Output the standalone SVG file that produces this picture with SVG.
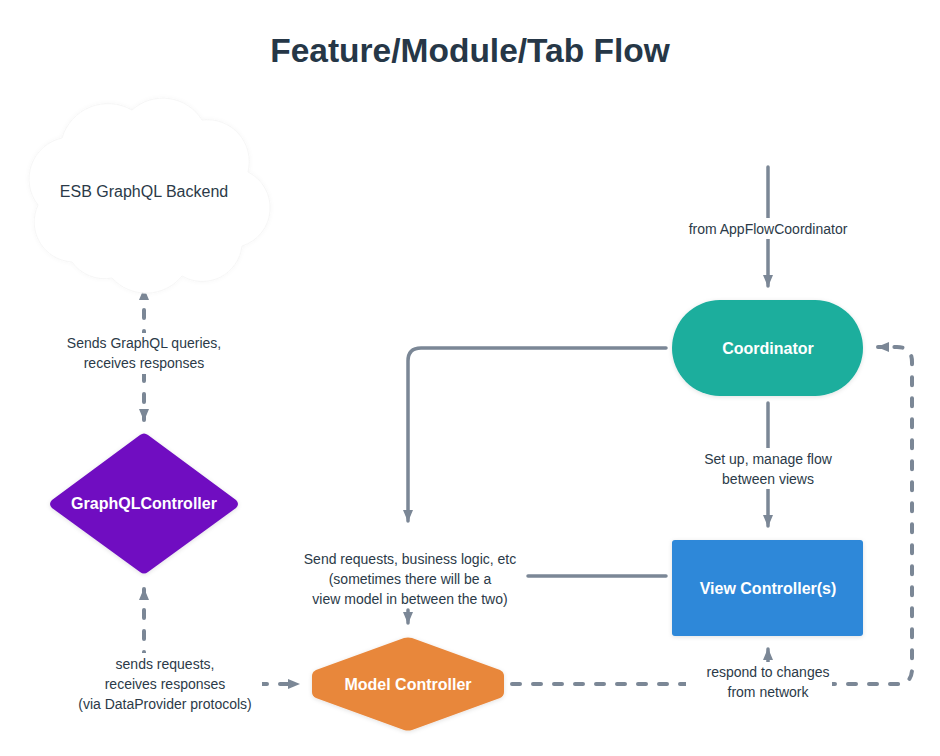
<svg xmlns="http://www.w3.org/2000/svg" width="940" height="756" viewBox="0 0 940 756">
<defs>
<style>
.title{font-family:"Liberation Sans",Arial,sans-serif;font-weight:bold;font-size:33.5px;fill:#263747;}
.lbl{font-family:"Liberation Sans",Arial,sans-serif;font-size:14px;fill:#2b3a48;}
.ntx{font-family:"Liberation Sans",Arial,sans-serif;font-weight:bold;font-size:16px;fill:#ffffff;}
.ctx{font-family:"Liberation Sans",Arial,sans-serif;font-size:16px;fill:#2b3a48;}
.solid{fill:none;stroke:#7b8796;stroke-width:3.5;stroke-linecap:round;}
.dash{fill:none;stroke:#7b8796;stroke-width:4;stroke-linecap:round;stroke-dasharray:8 13;}
.bg{fill:#ffffff;}
</style>
<marker id="ah" viewBox="0 0 12 10" refX="11" refY="5" markerWidth="12" markerHeight="10" markerUnits="userSpaceOnUse" orient="auto-start-reverse">
<path d="M0,0 L12,5 L0,10 Z" fill="#7b8796"/>
</marker>
<filter id="sh" x="-20%" y="-20%" width="140%" height="140%">
<feDropShadow dx="0" dy="1" stdDeviation="2" flood-color="#000" flood-opacity="0.12"/>
</filter>
<filter id="csh" x="-20%" y="-20%" width="140%" height="140%">
<feDropShadow dx="0" dy="0" stdDeviation="2" flood-color="#000" flood-opacity="0.035"/>
</filter>
</defs>
<rect width="940" height="756" fill="#ffffff"/>
<text class="title" x="470" y="62" text-anchor="middle">Feature/Module/Tab Flow</text>

<g id="connectors">
<path class="dash" d="M144,289 V420" marker-start="url(#ah)" marker-end="url(#ah)"/>
<path class="dash" d="M144,589 V684 H299" marker-start="url(#ah)" marker-end="url(#ah)"/>
<path class="solid" d="M768,167 V286" marker-end="url(#ah)"/>
<path class="solid" d="M768,403 V526" marker-end="url(#ah)"/>
<path class="solid" d="M666,348 H421 Q408,348 408,361 V521" marker-end="url(#ah)"/>
<path class="solid" d="M666,576 H528"/>
<path class="solid" d="M408,610 V623" marker-end="url(#ah)"/>
<path class="solid" d="M768,662 V649" marker-end="url(#ah)"/>
<path class="dash" d="M512,684 H897 Q912,684 912,669 V362 Q912,347 897,347 H878" marker-end="url(#ah)"/>
<rect class="bg" x="55" y="333" width="178" height="41"/>
<rect class="bg" x="72" y="653" width="190" height="62"/>
<rect class="bg" x="675" y="218" width="186" height="21"/>
<rect class="bg" x="690" y="448" width="156" height="41"/>
<rect class="bg" x="686" y="662" width="146" height="40"/>
<text class="lbl" x="144" y="348" text-anchor="middle">Sends GraphQL queries,</text>
<text class="lbl" x="144" y="368" text-anchor="middle">receives responses</text>
<text class="lbl" x="165" y="669" text-anchor="middle">sends requests,</text>
<text class="lbl" x="165" y="689" text-anchor="middle">receives responses</text>
<text class="lbl" x="165" y="709" text-anchor="middle">(via DataProvider protocols)</text>
<text class="lbl" x="768" y="234" text-anchor="middle">from AppFlowCoordinator</text>
<text class="lbl" x="768" y="464" text-anchor="middle">Set up, manage flow</text>
<text class="lbl" x="768" y="484" text-anchor="middle">between views</text>
<text class="lbl" x="410" y="564" text-anchor="middle">Send requests, business logic, etc</text>
<text class="lbl" x="410" y="584" text-anchor="middle">(sometimes there will be a</text>
<text class="lbl" x="410" y="604" text-anchor="middle">view model in between the two)</text>
<text class="lbl" x="768" y="677" text-anchor="middle">respond to changes</text>
<text class="lbl" x="768" y="697" text-anchor="middle">from network</text>
</g>

<g id="backend">
<path d="M72,262 A40,40 0 0 1 38,205 A42,42 0 0 1 62,138 A48,48 0 0 1 132,110 A46,46 0 0 1 202,120 A42,42 0 0 1 248,172 A40,40 0 0 1 242,246 A40,40 0 0 1 182,276 A46,46 0 0 1 112,278 A40,40 0 0 1 72,262 Z" fill="#ffffff" stroke="#f6f6f6" stroke-width="1" filter="url(#csh)"/>
<text class="ctx" x="144" y="197" text-anchor="middle">ESB GraphQL Backend</text>
</g>

<g id="graphqlcontroller">
<path d="M140,435 Q144,432 148,435 L236,500 Q240,504 236,508 L148,572 Q144,575 140,572 L52,508 Q48,504 52,500 Z" fill="#6f10c1" filter="url(#sh)"/>
<text class="ntx" x="144" y="509" text-anchor="middle">GraphQLController</text>
</g>

<g id="coordinator">
<rect x="672" y="300" width="191" height="96" rx="48" fill="#1bae9d" filter="url(#sh)"/>
<text class="ntx" x="768" y="354" text-anchor="middle">Coordinator</text>
</g>

<g id="viewcontroller">
<rect x="672" y="540" width="191" height="96" rx="3" fill="#2d88d9" filter="url(#sh)"/>
<text class="ntx" x="768" y="594" text-anchor="middle">View Controller(s)</text>
</g>

<g id="modelcontroller">
<path d="M404,638 Q408,637 412,638 L500,670 Q504,672 504,676 V692 Q504,696 500,698 L412,730 Q408,731 404,730 L316,698 Q312,696 312,692 V676 Q312,672 316,670 Z" fill="#e8873a" filter="url(#sh)"/>
<text class="ntx" x="408" y="690" text-anchor="middle">Model Controller</text>
</g>
</svg>
